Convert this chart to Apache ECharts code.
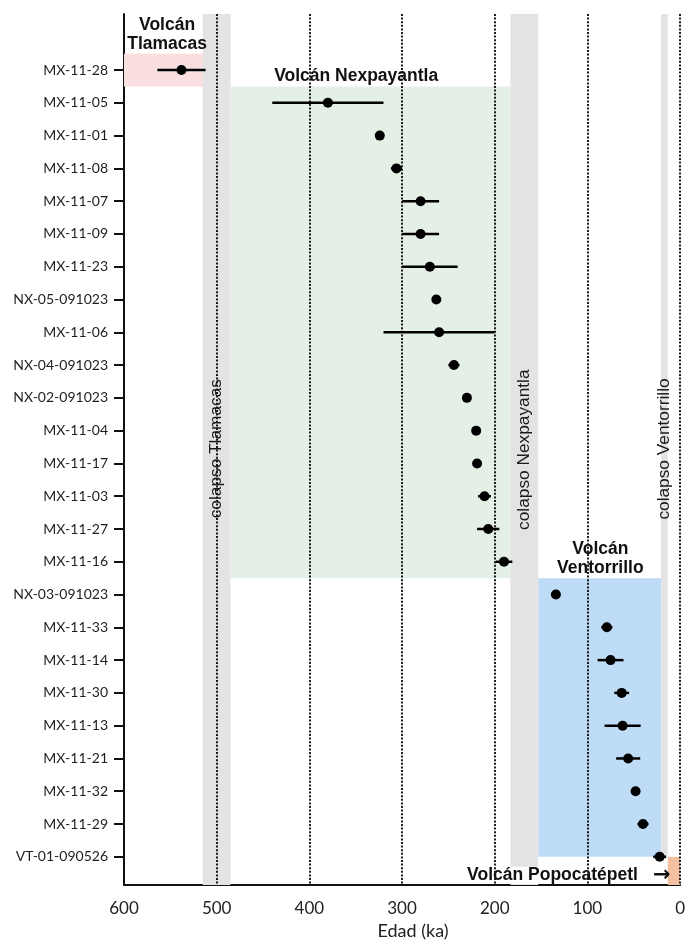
<!DOCTYPE html>
<html>
<head>
<meta charset="utf-8">
<script src="https://cdn.jsdelivr.net/npm/echarts@6/dist/echarts.min.js"></script>
<style>
  html, body { margin: 0; padding: 0; background: #ffffff; }
  #chart { width: 688px; height: 947px; }
</style>
</head>
<body>
<div id="chart"></div>
<script>
// Samples, top to bottom
const sampleNames = [
  'MX-11-28', 'MX-11-05', 'MX-11-01', 'MX-11-08', 'MX-11-07', 'MX-11-09', 'MX-11-23',
  'NX-05-091023', 'MX-11-06', 'NX-04-091023', 'NX-02-091023', 'MX-11-04', 'MX-11-17',
  'MX-11-03', 'MX-11-27', 'MX-11-16', 'NX-03-091023', 'MX-11-33', 'MX-11-14', 'MX-11-30',
  'MX-11-13', 'MX-11-21', 'MX-11-32', 'MX-11-29', 'VT-01-090526'
];
// Age (ka) and its uncertainty (± ka)
const ageKa  = [538, 380, 324, 306, 280, 280, 270, 263, 260, 244, 230, 220, 219, 211, 207, 190, 134, 79, 75, 63, 62, 56, 48, 40, 22];
const ageErr = [26, 60, 2, 6, 20, 20, 30, 2, 60, 6, 3, 2, 2, 7, 12, 9, 2, 6, 14, 8, 19.5, 13, 2, 6, 7];

// Age axis ticks
const ageTicks = [600, 500, 400, 300, 200, 100, 0];

// Volcanic stages: [older age, younger age, first row, last row]
const tlamacasStage     = [600, 515, -0.5, 0.5];
const nexpayantlaStage  = [485, 183, 0.5, 15.5];
const ventorrilloStage  = [153, 20.5, 15.5, 24];
const popocatepetlStage = [13.3, 0, 24, 24.86];

// Flank collapses: [older age, younger age]
const collapseTlamacas    = [515, 485];
const collapseNexpayantla = [183, 153];
const collapseVentorrillo = [20.5, 13.3];

const collapseNames = ['colapso Tlamacas', 'colapso Nexpayantla', 'colapso Ventorrillo'];
const stageNames = ['Volcán\nTlamacas', 'Volcán Nexpayantla', 'Volcán\nVentorrillo'];

const rowIdx = sampleNames.map((_, i) => i);
const Y_MIN = -1.71, Y_MAX = 24.86;

const chart = echarts.init(document.getElementById('chart'));

const pointData = ageKa.map((a, i) => [a, i]);
const barData = ageKa.map((a, i) => [a + ageErr[i], a - ageErr[i], i]);

const grayBand = '#e3e3e3';
const titleFont = 'bold 17.5px "Liberation Sans", Arial, sans-serif';
const collapseFont = '17.3px "Liberation Sans", Arial, sans-serif';

function area(stage, color) {
  return [
    { xAxis: stage[0], yAxis: stage[2], itemStyle: { color: color } },
    { xAxis: stage[1], yAxis: stage[3] }
  ];
}
function collapseArea(c, yTo) {
  const a = { xAxis: c[0], itemStyle: { color: grayBand } };
  const b = { xAxis: c[1] };
  if (yTo !== undefined) { a.yAxis = Y_MIN; b.yAxis = yTo; }
  return [a, b];
}

// text anchors in data space: [age, row]
const collapseLabelAt = [[500, 11.55], [168, 11.58], [16.9, 11.56]];
const stageLabelAt = [[553.5, -1.08], [349.5, 0.18], [86, 14.92]];

const option = {
  backgroundColor: '#ffffff',
  animation: false,
  grid: { left: 124, right: 6.3, top: 14, bottom: 62 },
  xAxis: {
    type: 'value',
    inverse: true,
    min: 0,
    max: 600,
    interval: 100,
    name: 'Edad (ka)',
    nameLocation: 'middle',
    nameGap: 35,
    nameTextStyle: { fontFamily: 'Lato', fontSize: 18, color: '#222', padding: [0, 0, 0, 22] },
    axisLine: { show: true, onZero: false, lineStyle: { color: '#111', width: 2 } },
    axisTick: { show: false },
    axisLabel: { fontFamily: 'Lato', fontSize: 17, color: '#222', margin: 15,
      customValues: ageTicks },
    splitLine: { show: false }
  },
  yAxis: {
    type: 'value',
    inverse: true,
    min: Y_MIN,
    max: Y_MAX,
    axisLine: { show: true, onZero: false, lineStyle: { color: '#111', width: 2 } },
    axisTick: { show: true, customValues: rowIdx, length: 10, lineStyle: { color: '#111', width: 2 } },
    axisLabel: {
      customValues: rowIdx,
      fontFamily: 'Lato', fontSize: 14, color: '#1e1e1e', margin: 16,
      formatter: v => sampleNames[Math.round(v)] || ''
    },
    splitLine: { show: false }
  },
  series: [
    {
      // shaded stages and collapse bands
      type: 'scatter',
      data: [],
      z: 1,
      silent: true,
      markArea: {
        silent: true,
        data: [
          area(tlamacasStage, '#f9dfdf'),
          area(nexpayantlaStage, '#e4efe6'),
          area(ventorrilloStage, '#bedcf6'),
          area(popocatepetlStage, '#f3c0a2'),
          collapseArea(collapseTlamacas),
          collapseArea(collapseNexpayantla),
          collapseArea(collapseVentorrillo, 24)
        ]
      }
    },
    {
      // Popocatépetl label box
      type: 'custom',
      z: 2,
      silent: true,
      data: [[43.3, 24.56]],
      renderItem: function (params, api) {
        const p = api.coord([api.value(0), api.value(1)]);
        return {
          type: 'text', x: p[0], y: p[1],
          style: { text: 'Volcán Popocatépetl', font: titleFont, fill: '#111', lineHeight: 17,
            align: 'right', verticalAlign: 'middle', backgroundColor: '#ffffff', padding: [0, 2, 0, 2] }
        };
      }
    },
    {
      // dotted age guides
      type: 'scatter',
      data: [],
      z: 3,
      silent: true,
      markLine: {
        silent: true,
        symbol: 'none',
        label: { show: false },
        lineStyle: { color: '#1a1a1a', width: 2, type: [2, 1.6] },
        data: ageTicks.filter(t => t < 600).map(t => ({ xAxis: t }))
      }
    },
    {
      // vertical collapse labels
      type: 'custom',
      z: 4,
      silent: true,
      data: collapseLabelAt,
      renderItem: function (params, api) {
        const p = api.coord([api.value(0), api.value(1)]);
        const i = params.dataIndex;
        return {
          type: 'text', x: p[0], y: p[1], rotation: Math.PI / 2,
          style: { text: collapseNames[i], font: collapseFont, fill: '#1a1a1a',
            align: 'center', verticalAlign: 'middle',
            backgroundColor: i === 0 ? grayBand : null, padding: [2, 1, 0, 1] }
        };
      }
    },
    {
      // stage titles
      type: 'custom',
      z: 5,
      silent: true,
      data: stageLabelAt,
      renderItem: function (params, api) {
        const p = api.coord([api.value(0), api.value(1)]);
        return {
          type: 'text', x: p[0], y: p[1],
          style: { text: stageNames[params.dataIndex], font: titleFont, fill: '#111',
            align: 'center', verticalAlign: 'middle', lineHeight: 19 }
        };
      }
    },
    {
      // arrow to the Popocatépetl band
      type: 'custom',
      z: 5,
      silent: true,
      data: [[19.8, 24.56]],
      renderItem: function (params, api) {
        const p = api.coord([api.value(0), api.value(1)]);
        return {
          type: 'text', x: p[0], y: p[1],
          style: { text: '→', font: 'bold 21px "DejaVu Sans", sans-serif', fill: '#111',
            align: 'center', verticalAlign: 'middle' }
        };
      }
    },
    {
      // uncertainty bars
      type: 'custom',
      z: 6,
      silent: true,
      data: barData,
      encode: { x: [0, 1], y: 2 },
      renderItem: function (params, api) {
        const a = api.coord([api.value(0), api.value(2)]);
        const b = api.coord([api.value(1), api.value(2)]);
        return {
          type: 'line',
          shape: { x1: a[0], y1: a[1], x2: b[0], y2: b[1] },
          style: { stroke: '#000', lineWidth: 2.5 }
        };
      }
    },
    {
      // ages
      type: 'scatter',
      z: 7,
      data: pointData,
      symbol: 'circle',
      symbolSize: 10,
      itemStyle: { color: '#000', opacity: 1 }
    }
  ]
};

chart.setOption(option);
</script>
</body>
</html>
